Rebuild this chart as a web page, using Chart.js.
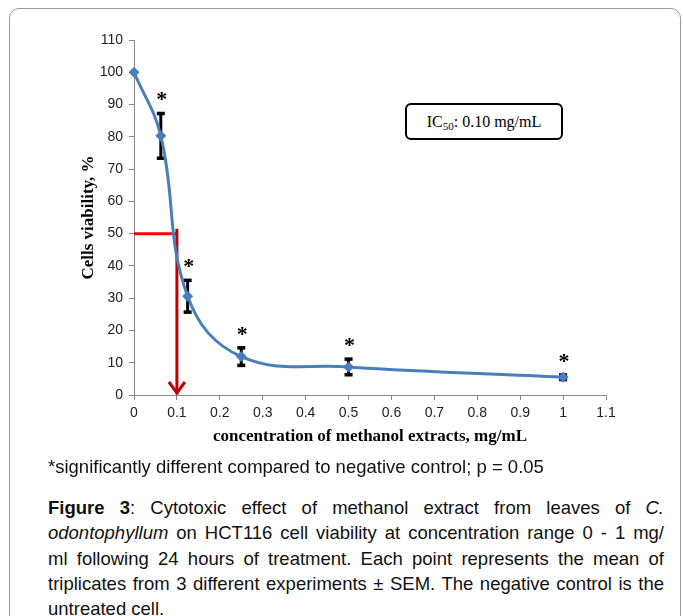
<!DOCTYPE html>
<html lang="en">
<head>
    <meta charset="UTF-8">
    <title>Figure 3</title>
    <script src="https://cdn.jsdelivr.net/npm/chart.js"></script>
    <style>
        body { margin: 0; background: #fff; width: 683px; height: 616px; overflow: hidden; position: relative; }
        #frame { position: absolute; left: 9px; top: 8px; width: 672px; height: 640px; border: 1px solid #9a9a9a; border-radius: 10px; box-sizing: border-box; }
        #chart { position: absolute; left: 0; top: 0; }
        #ic50 { position: absolute; left: 405px; top: 103px; width: 158px; height: 37px; border: 2px solid #000; border-radius: 6px; box-sizing: border-box;
                font-family: "Liberation Serif", serif; font-size: 16px; text-align: center; line-height: 33px; background: #fff; }
        #ic50 sub { font-size: 11px; vertical-align: -3px; line-height: 0; }
        .cap { position: absolute; left: 48px; width: 616px; font-family: "Liberation Sans", Arial, sans-serif; font-size: 18.5px; color: #111; }
        #note { top: 456px; }
        #fig { top: 495px; line-height: 25.3px; }
        #fig div { text-align: justify; text-align-last: justify; white-space: nowrap; }
        #fig div.last { text-align-last: left; }
    </style>
</head>
<body>
<div id="frame"></div>
<canvas id="chart" width="683" height="460"></canvas>
<div id="ic50">IC<sub>50</sub>: 0.10 mg/mL</div>
<div class="cap" id="note">*significantly different compared to negative control; p = 0.05</div>
<div class="cap" id="fig">
    <div><b>Figure 3</b>: Cytotoxic effect of methanol extract from leaves of <i>C.</i></div>
    <div><i>odontophyllum</i> on HCT116 cell viability at concentration range 0 - 1 mg/</div>
    <div>ml following 24 hours of treatment. Each point represents the mean of</div>
    <div>triplicates from 3 different experiments ± SEM. The negative control is the</div>
    <div class="last">untreated cell.</div>
</div>
<script>
    // concentration (mg/mL) and viability (%)
    const concentrations = [0, 0.0625, 0.125, 0.25, 0.5, 1];
    const viability = [100, 80.3, 30.6, 11.9, 8.7, 5.5];
    const sem = [0, 7, 5, 2.8, 2.5, 0.8];
    const significant = [false, true, true, true, true, true];

    // IC50 guide
    const ic50 = 0.1;
    const ic50Level = 50;

    const xTickLabels = ['0', '0.1', '0.2', '0.3', '0.4', '0.5', '0.6', '0.7', '0.8', '0.9', '1', '1.1'];

    const blue = '#4a7ebb';

    const errorBars = {
        id: 'errorBars',
        beforeDatasetsDraw(chart) {
            const ctx = chart.ctx;
            const xs = chart.scales.x, ys = chart.scales.y;
            ctx.save();
            ctx.strokeStyle = '#000';
            ctx.fillStyle = '#000';
            concentrations.forEach((c, i) => {
                if (!sem[i]) return;
                const px = xs.getPixelForValue(c);
                const top = ys.getPixelForValue(viability[i] + sem[i]);
                const bot = ys.getPixelForValue(viability[i] - sem[i]);
                ctx.lineWidth = 3;
                ctx.beginPath();
                ctx.moveTo(px, top);
                ctx.lineTo(px, bot);
                ctx.stroke();
                ctx.fillRect(px - 4, top - 1.5, 8, 3.5);
                ctx.fillRect(px - 4, bot - 2, 8, 3.5);
            });
            ctx.restore();
        },
        afterDatasetsDraw(chart) {
            const ctx = chart.ctx;
            const xs = chart.scales.x, ys = chart.scales.y;
            ctx.save();
            // asterisks
            ctx.fillStyle = '#000';
            ctx.font = 'bold 22px "Liberation Serif", serif';
            ctx.textAlign = 'center';
            ctx.textBaseline = 'alphabetic';
            concentrations.forEach((c, i) => {
                if (!significant[i]) return;
                const px = xs.getPixelForValue(c);
                const top = ys.getPixelForValue(viability[i] + sem[i]);
                ctx.fillText('*', px + 1, top - 7);
            });
            // arrow head at IC50
            const ax = xs.getPixelForValue(ic50);
            const ay = ys.getPixelForValue(0);
            ctx.strokeStyle = '#c00000';
            ctx.lineWidth = 3;
            ctx.lineCap = 'butt';
            ctx.beginPath();
            ctx.moveTo(ax - 8, ay - 13);
            ctx.lineTo(ax, ay - 2);
            ctx.lineTo(ax + 8, ay - 13);
            ctx.stroke();
            ctx.restore();
        }
    };

    const ctx = document.getElementById('chart').getContext('2d');
    const chart = new Chart(ctx, {
        type: 'line',
        data: {
            datasets: [
                {
                    label: 'IC50 horizontal',
                    data: [{x: 0, y: ic50Level}, {x: ic50, y: ic50Level}],
                    borderColor: '#ff0000',
                    borderWidth: 3,
                    pointRadius: 0,
                    tension: 0,
                    order: 2
                },
                {
                    label: 'IC50 vertical',
                    data: [{x: ic50, y: ic50Level + 1.5}, {x: ic50, y: 0.2}],
                    borderColor: '#c00000',
                    borderWidth: 3,
                    pointRadius: 0,
                    tension: 0,
                    order: 1
                },
                {
                    label: 'Cells viability',
                    data: concentrations.map((c, i) => ({x: c, y: viability[i]})),
                    borderColor: blue,
                    backgroundColor: blue,
                    borderWidth: 3,
                    pointStyle: 'rectRot',
                    pointRadius: 5.5,
                    pointBorderWidth: 0,
                    tension: 0.4,
                    clip: false,
                    order: 0
                }
            ]
        },
        options: {
            responsive: false,
            animation: false,
            layout: { padding: { left: 78, right: 77, top: 40, bottom: 13 } },
            plugins: { legend: { display: false }, tooltip: { enabled: false } },
            scales: {
                x: {
                    type: 'linear',
                    min: 0,
                    max: 1.1,
                    afterFit: s => { s.height = 52; },
                    ticks: {
                        stepSize: 0.1,
                        padding: 5,
                        color: '#222',
                        font: { family: '"Liberation Sans", Arial, sans-serif', size: 14 },
                        callback: (v, i) => xTickLabels[i]
                    },
                    grid: { drawOnChartArea: false, drawTicks: true, tickLength: 5, color: '#868686' },
                    border: { color: '#868686', width: 1 },
                    title: {
                        display: true,
                        text: 'concentration of methanol extracts, mg/mL',
                        color: '#000',
                        padding: 0,
                        font: { family: '"Liberation Serif", serif', size: 17, weight: 'bold' }
                    }
                },
                y: {
                    min: 0,
                    max: 110,
                    afterFit: s => { s.width = 56; },
                    ticks: {
                        stepSize: 10,
                        padding: 6,
                        color: '#222',
                        font: { family: '"Liberation Sans", Arial, sans-serif', size: 14 }
                    },
                    grid: { drawOnChartArea: false, drawTicks: true, tickLength: 5, color: '#868686' },
                    border: { color: '#868686', width: 1 },
                    title: {
                        display: true,
                        text: 'Cells viability, %',
                        color: '#000',
                        padding: 0,
                        font: { family: '"Liberation Serif", serif', size: 17, weight: 'bold' }
                    }
                }
            }
        },
        plugins: [errorBars]
    });
</script>
</body>
</html>
